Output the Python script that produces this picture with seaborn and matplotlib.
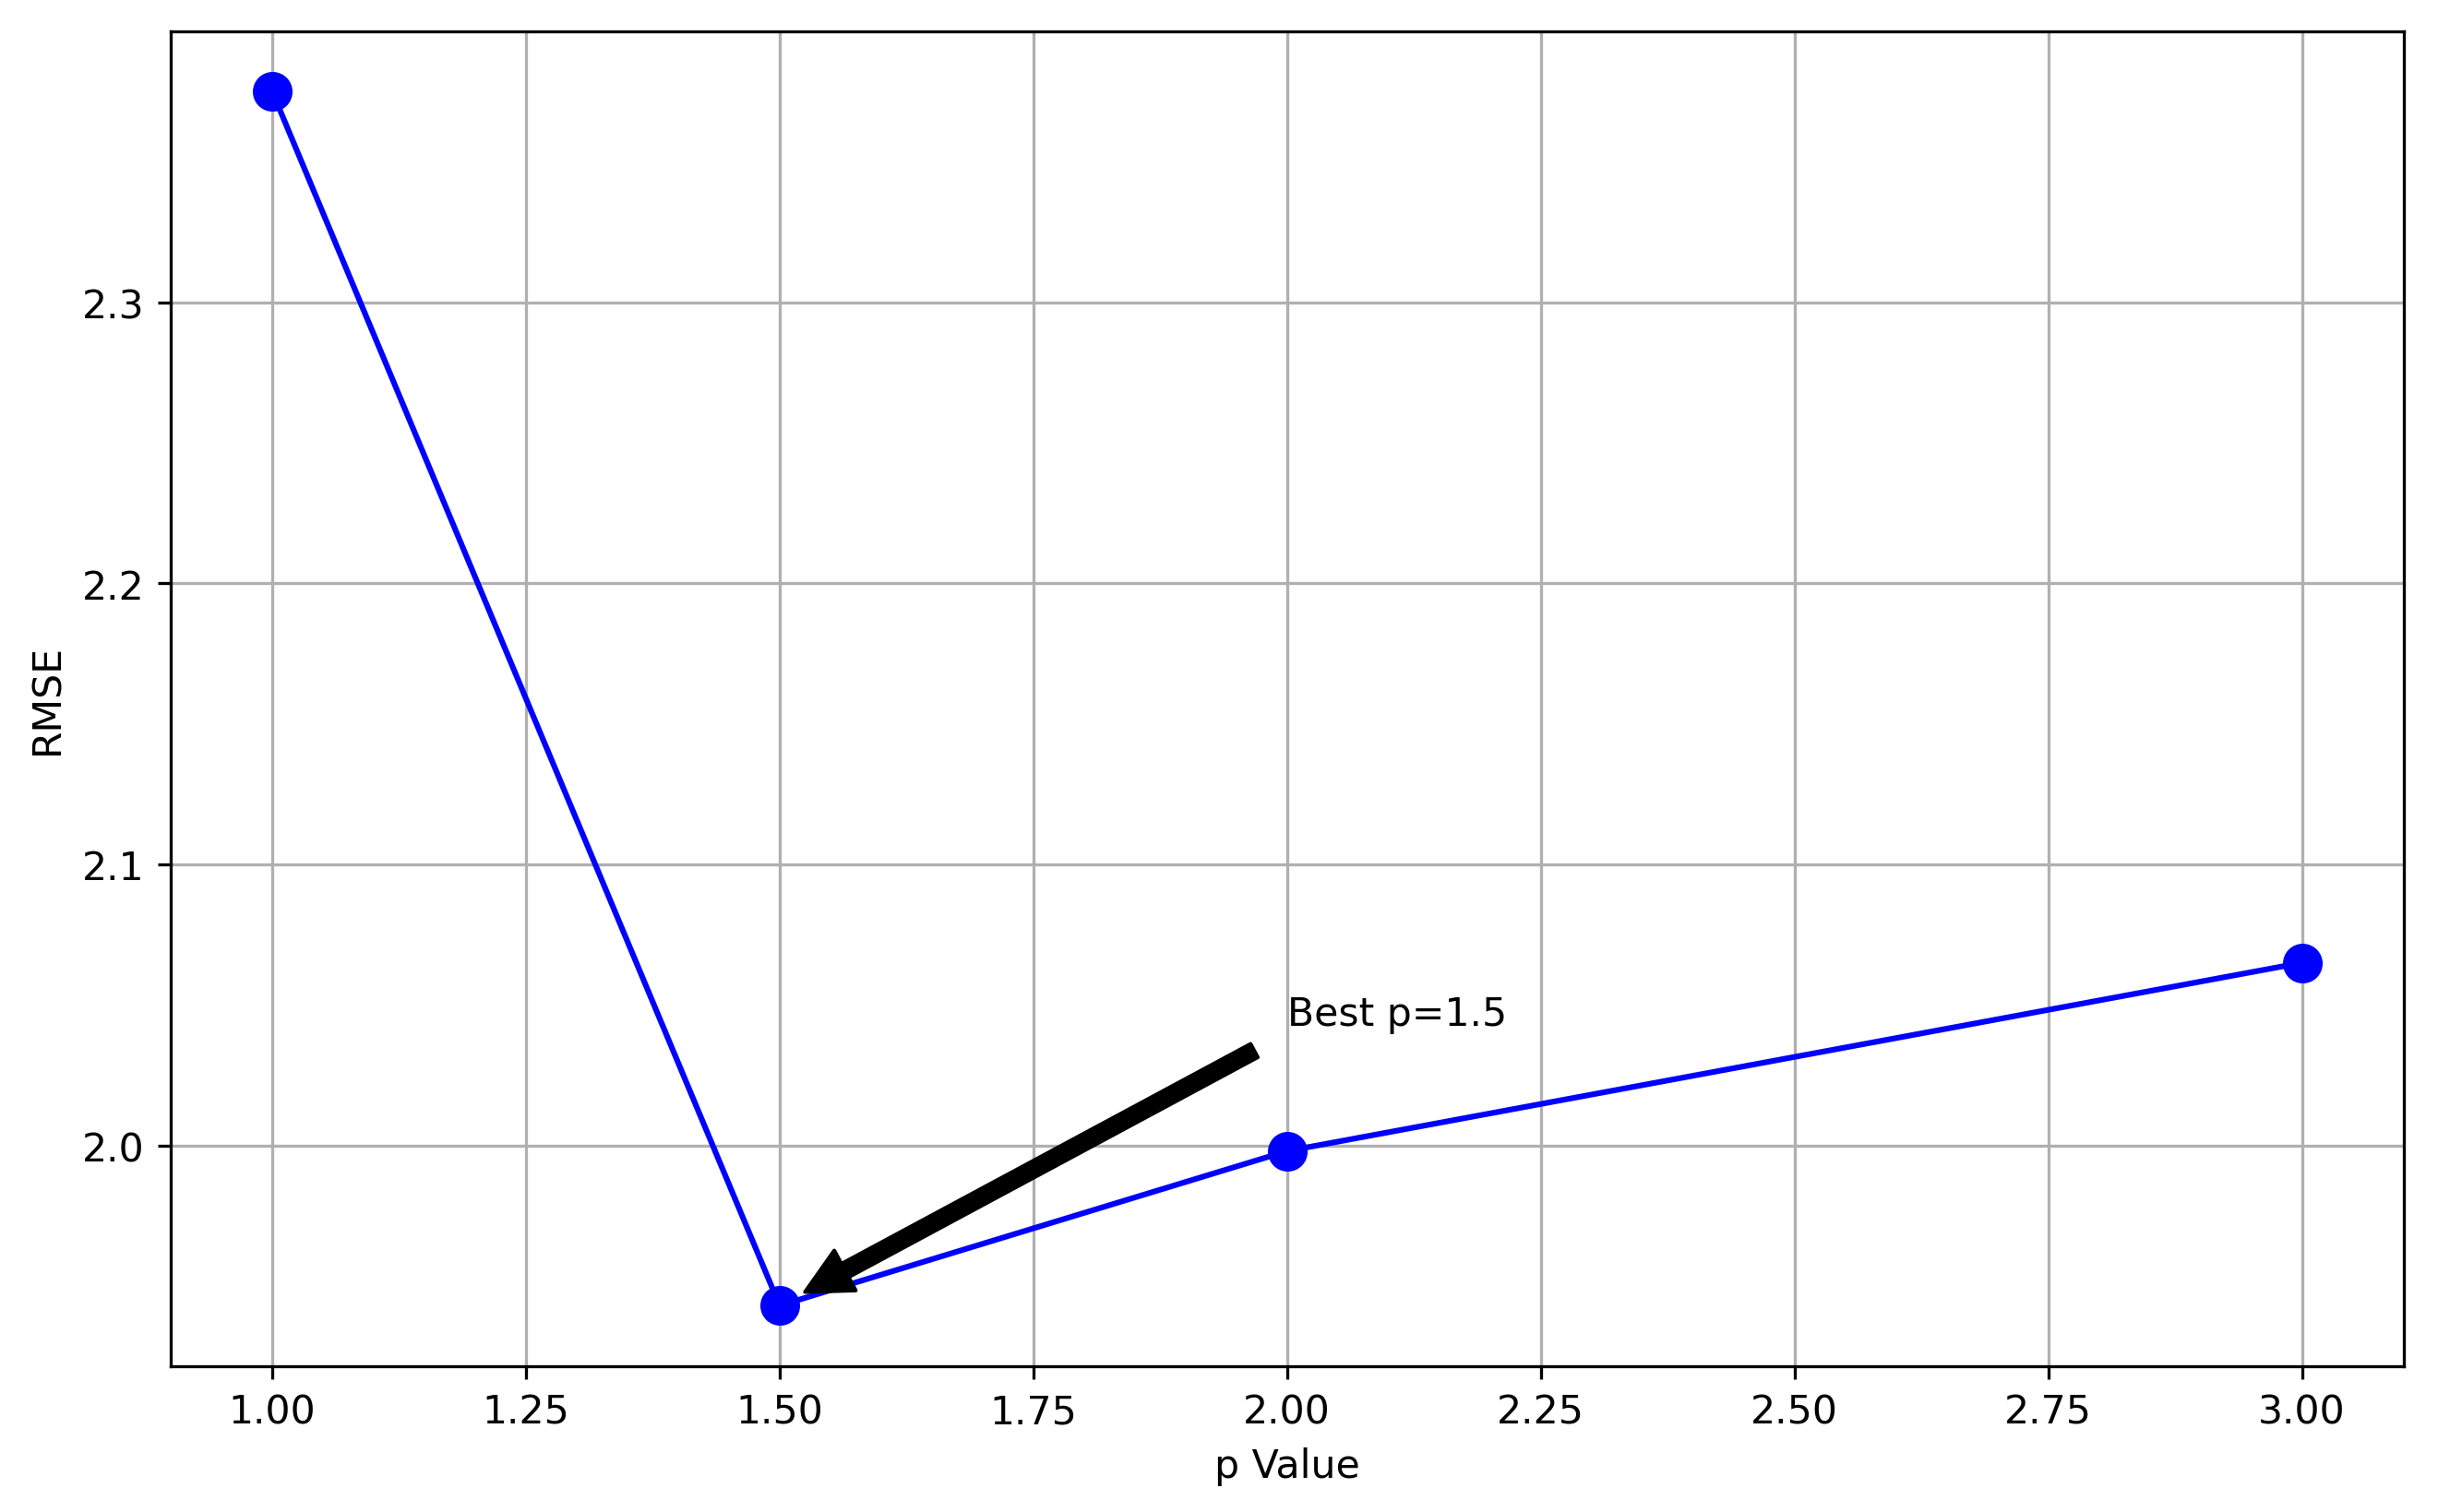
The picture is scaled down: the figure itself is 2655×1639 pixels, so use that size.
import matplotlib
matplotlib.use("Agg")
import matplotlib.pyplot as plt
import seaborn as sns
import pandas as pd

# values
p_values = [1.0, 1.5, 2.0, 3.0]
rmse_values = [2.375, 1.943, 1.998, 2.065]

best_p = 1.5
best_rmse = 1.943

df = pd.DataFrame({'p': p_values, 'RMSE': rmse_values})

plt.rcParams['font.size'] = 10.4

fig, ax = plt.subplots(figsize=(9, 5.559), dpi=295)
sns.lineplot(data=df, x='p', y='RMSE', ax=ax, color='blue', marker='o',
             markersize=9.5, markeredgecolor='blue', markeredgewidth=1, linewidth=1.5)
ax.annotate(f'Best p={best_p}', xy=(best_p, best_rmse),
            xytext=(best_p + 0.5, best_rmse + 0.1),
            arrowprops=dict(facecolor='black', shrink=0.05))
ax.set_xlabel('p Value')
ax.set_ylabel('RMSE')
ax.grid(True)
plt.subplots_adjust(left=0.0697, right=0.981, top=0.979, bottom=0.0963)
plt.savefig('out.png', dpi=295)
